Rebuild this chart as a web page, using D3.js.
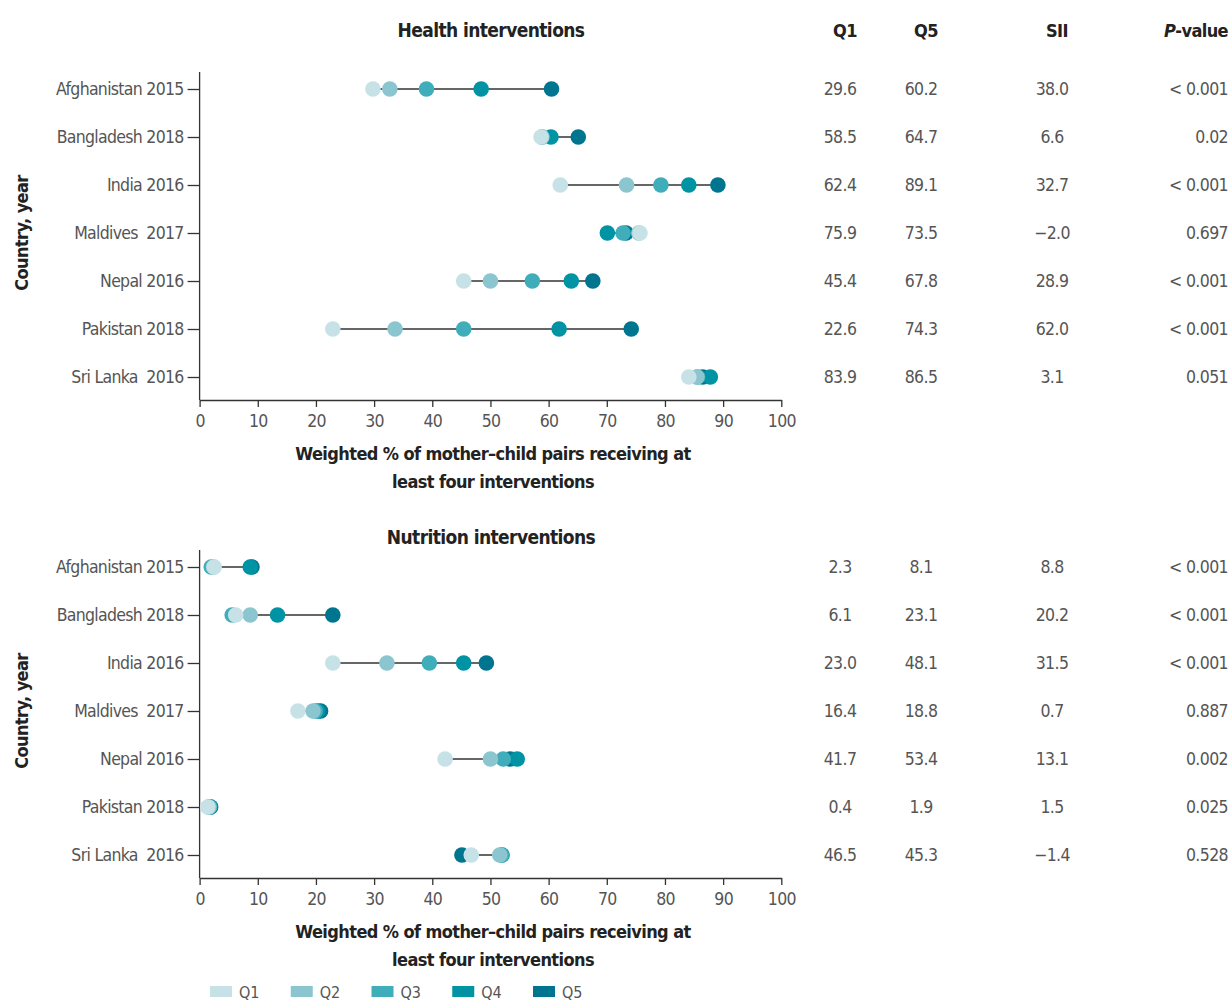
<!DOCTYPE html>
<html>
<head>
<meta charset="utf-8">
<script src="https://cdn.jsdelivr.net/npm/d3@7"></script>
<style>
  body { margin: 0; background: #fff; }
  svg text { font-family: "Liberation Sans Narrow", "DejaVu Sans Condensed", "Arial Narrow", sans-serif; }
  .tick text { fill: #555; font-size: 17.5px; letter-spacing: -0.7px; }
  .title { font-weight: bold; fill: #222; letter-spacing: -0.6px; }
  .cell { fill: #555; font-size: 17.5px; letter-spacing: -0.6px; }
</style>
</head>
<body>
<svg id="chart" width="1231" height="1001"></svg>
<script>
// rows and quintiles
const countries = ['Afghanistan 2015', 'Bangladesh 2018', 'India 2016', 'Maldives  2017', 'Nepal 2016', 'Pakistan 2018', 'Sri Lanka  2016'];
const quintiles = ['Q1', 'Q2', 'Q3', 'Q4', 'Q5'];
const quintileColors = ['#c6e2e7', '#8bc6d0', '#40aeba', '#0093a3', '#007590'];
const xTicks = [0, 10, 20, 30, 40, 50, 60, 70, 80, 90, 100];

// health interventions, % by wealth quintile
const healthQ1 = [29.8, 58.7, 62.0, 75.7, 45.4, 22.9, 84.1];
const healthQ2 = [32.7, 58.8, 73.4, 75.5, 50.0, 33.6, 85.5];
const healthQ3 = [39.0, 58.9, 79.3, 72.8, 57.2, 45.4, 85.6];
const healthQ4 = [48.4, 60.4, 84.1, 70.1, 63.9, 61.8, 87.8];
const healthQ5 = [60.5, 65.1, 89.1, 73.3, 67.6, 74.2, 86.5];

// nutrition interventions
const nutritionQ1 = [2.5, 6.2, 22.9, 16.9, 42.2, 1.4, 46.7];
const nutritionQ2 = [2.4, 8.7, 32.2, 19.5, 50.0, 1.6, 51.6];
const nutritionQ3 = [2.0, 5.6, 39.5, 19.9, 52.2, 1.7, 51.9];
const nutritionQ4 = [8.7, 13.4, 45.4, 20.3, 54.6, 1.8, 52.0];
const nutritionQ5 = [9.0, 22.9, 49.3, 20.8, 53.4, 1.9, 45.1];

// table columns
const tableHeaders = ['Q1', 'Q5', 'SII'];
const healthTabQ1 = ['29.6', '58.5', '62.4', '75.9', '45.4', '22.6', '83.9'];
const healthTabQ5 = ['60.2', '64.7', '89.1', '73.5', '67.8', '74.3', '86.5'];
const healthSII = ['38.0', '6.6', '32.7', '\u22122.0', '28.9', '62.0', '3.1'];
const healthP = ['< 0.001', '0.02', '< 0.001', '0.697', '< 0.001', '< 0.001', '0.051'];
const nutritionTabQ1 = ['2.3', '6.1', '23.0', '16.4', '41.7', '0.4', '46.5'];
const nutritionTabQ5 = ['8.1', '23.1', '48.1', '18.8', '53.4', '1.9', '45.3'];
const nutritionSII = ['8.8', '20.2', '31.5', '0.7', '13.1', '1.5', '\u22121.4'];
const nutritionP = ['< 0.001', '< 0.001', '< 0.001', '0.887', '0.002', '0.025', '0.528'];

const svg = d3.select('#chart');
const x = d3.scaleLinear().domain([0, 100]).range([199.6, 781.3]);
const colX = [840, 921, 1052]; // centres of Q1, Q5, SII columns
const pRight = 1228;

function drawPanel(opts) {
  const { top, titleY, title, series, tabQ1, tabQ5, sii, pvals, showHeader } = opts;
  const g = svg.append('g');
  const y = d3.scalePoint().domain(countries).range([top + 17, top + 17 + 48 * 6]);
  const axisY = top + 328;

  g.append('text').attr('class', 'title')
    .attr('x', 491).attr('y', titleY)
    .attr('text-anchor', 'middle').attr('font-size', 19)
    .text(title);

  // y axis
  const ya = g.append('g')
    .attr('transform', `translate(${x(0)},0)`)
    .call(d3.axisLeft(y).tickSize(12).tickPadding(4));
  ya.select('.domain').remove();
  ya.selectAll('.tick line').attr('stroke', '#333').attr('stroke-width', 1.3);
  ya.selectAll('.tick text').style('white-space', 'pre');
  g.append('line')
    .attr('x1', x(0)).attr('x2', x(0))
    .attr('y1', top).attr('y2', axisY)
    .attr('stroke', '#333').attr('stroke-width', 1.3);

  // x axis
  const xa = g.append('g')
    .attr('transform', `translate(0,${axisY})`)
    .call(d3.axisBottom(x).tickValues(xTicks).tickSize(7).tickSizeOuter(0).tickPadding(8));
  xa.select('.domain').attr('stroke', '#333').attr('stroke-width', 1.3);
  xa.selectAll('.tick line').attr('stroke', '#333').attr('stroke-width', 1.3);

  g.append('text').attr('class', 'title')
    .attr('x', 493).attr('y', axisY + 60)
    .attr('text-anchor', 'middle').attr('font-size', 18)
    .text('Weighted % of mother\u2013child pairs receiving at');
  g.append('text').attr('class', 'title')
    .attr('x', 493).attr('y', axisY + 88)
    .attr('text-anchor', 'middle').attr('font-size', 18)
    .text('least four interventions');

  g.append('text').attr('class', 'title')
    .attr('transform', `translate(28,${top + 161}) rotate(-90)`)
    .attr('text-anchor', 'middle').attr('font-size', 18)
    .text('Country, year');

  // rows: connector + dots
  const rows = countries.map((c, i) => ({ c, vals: series.map(s => s[i]) }));
  const rowG = g.selectAll('.row').data(rows).join('g').attr('class', 'row');
  rowG.append('line')
    .attr('x1', d => x(d3.min(d.vals))).attr('x2', d => x(d3.max(d.vals)))
    .attr('y1', d => y(d.c)).attr('y2', d => y(d.c))
    .attr('stroke', '#333').attr('stroke-width', 1.6);
  rowG.selectAll('circle')
    .data(d => d.vals.map((v, k) => ({ v, k, c: d.c })).reverse())
    .join('circle')
    .attr('cx', d => x(d.v)).attr('cy', d => y(d.c))
    .attr('r', 7.8)
    .attr('fill', d => quintileColors[d.k]);

  // table
  if (showHeader) {
    tableHeaders.forEach((h, j) => {
      g.append('text').attr('class', 'title')
        .attr('x', colX[j] + 5).attr('y', titleY)
        .attr('text-anchor', 'middle').attr('font-size', 18).text(h);
    });
    const ph = g.append('text').attr('class', 'title')
      .attr('x', pRight).attr('y', titleY)
      .attr('text-anchor', 'end').attr('font-size', 18);
    ph.append('tspan').attr('font-style', 'italic').text('P');
    ph.append('tspan').text('-value');
  }
  [tabQ1, tabQ5, sii].forEach((col, j) => {
    g.selectAll(null).data(col).join('text').attr('class', 'cell')
      .attr('x', colX[j]).attr('y', (d, i) => y(countries[i]))
      .attr('dy', '0.35em').attr('text-anchor', 'middle').text(d => d);
  });
  g.selectAll(null).data(pvals).join('text').attr('class', 'cell')
    .attr('x', pRight).attr('y', (d, i) => y(countries[i]))
    .attr('dy', '0.35em').attr('text-anchor', 'end').text(d => d);
}

drawPanel({
  top: 72, titleY: 37, title: 'Health interventions',
  series: [healthQ1, healthQ2, healthQ3, healthQ4, healthQ5],
  tabQ1: healthTabQ1, tabQ5: healthTabQ5, sii: healthSII, pvals: healthP,
  showHeader: true
});
drawPanel({
  top: 550, titleY: 544, title: 'Nutrition interventions',
  series: [nutritionQ1, nutritionQ2, nutritionQ3, nutritionQ4, nutritionQ5],
  tabQ1: nutritionTabQ1, tabQ5: nutritionTabQ5, sii: nutritionSII, pvals: nutritionP,
  showHeader: false
});

// legend
const legend = svg.append('g').attr('transform', 'translate(210,986)');
const lx = d3.scalePoint().domain(quintiles).range([0, 323]);
const li = legend.selectAll('g').data(quintiles).join('g')
  .attr('transform', d => `translate(${lx(d)},0)`);
li.append('rect').attr('width', 22).attr('height', 11)
  .attr('fill', (d, i) => quintileColors[i]);
li.append('text').attr('x', 29).attr('y', 6).attr('dy', '0.35em')
  .attr('font-size', 16).attr('fill', '#555').text(d => d);
</script>
</body>
</html>
